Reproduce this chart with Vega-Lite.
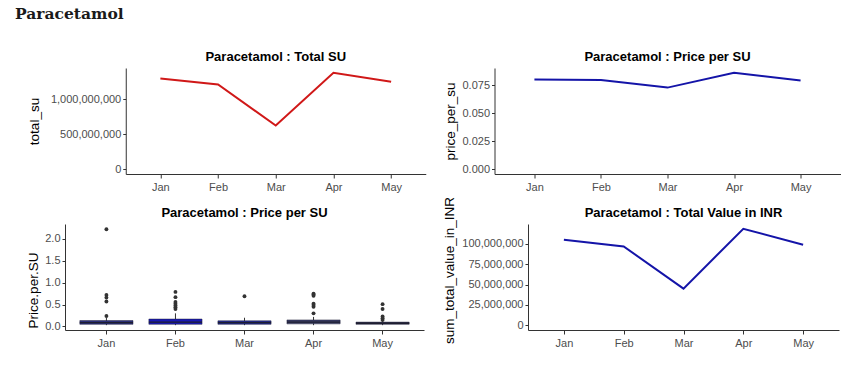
{
  "$schema": "https://vega.github.io/schema/vega-lite/v6.json",
  "background": "white",
  "padding": {"left": 7, "top": 6, "right": 5, "bottom": 5},
  "title": {"text": "Paracetamol", "anchor": "start", "frame": "bounds", "font": "DejaVu Serif", "fontSize": 15.5, "fontWeight": "bold", "color": "#1a1a1a", "dx": 8, "offset": 29},
  "datasets": {
    "monthly": [
      {"month": "Jan", "total_su": 1296000000, "price_per_su": 0.0801, "sum_total_value_in_INR": 105000000},
      {"month": "Feb", "total_su": 1210000000, "price_per_su": 0.0795, "sum_total_value_in_INR": 96800000},
      {"month": "Mar", "total_su": 624000000, "price_per_su": 0.0728, "sum_total_value_in_INR": 45000000},
      {"month": "Apr", "total_su": 1376000000, "price_per_su": 0.086, "sum_total_value_in_INR": 118500000},
      {"month": "May", "total_su": 1249000000, "price_per_su": 0.0792, "sum_total_value_in_INR": 98900000}
    ],
    "box": [
      {"month": "Jan", "lower": 0.03, "q1": 0.05, "median": 0.09, "q3": 0.135, "upper": 0.2},
      {"month": "Feb", "lower": 0.03, "q1": 0.05, "median": 0.1, "q3": 0.17, "upper": 0.3},
      {"month": "Mar", "lower": 0.03, "q1": 0.05, "median": 0.09, "q3": 0.13, "upper": 0.2},
      {"month": "Apr", "lower": 0.03, "q1": 0.06, "median": 0.1, "q3": 0.15, "upper": 0.22},
      {"month": "May", "lower": 0.03, "q1": 0.05, "median": 0.07, "q3": 0.1, "upper": 0.13}
    ],
    "outliers": [
      {"month": "Jan", "price_per_su": 0.24},
      {"month": "Jan", "price_per_su": 0.57},
      {"month": "Jan", "price_per_su": 0.66},
      {"month": "Jan", "price_per_su": 0.72},
      {"month": "Jan", "price_per_su": 2.22},
      {"month": "Feb", "price_per_su": 0.4},
      {"month": "Feb", "price_per_su": 0.44},
      {"month": "Feb", "price_per_su": 0.48},
      {"month": "Feb", "price_per_su": 0.52},
      {"month": "Feb", "price_per_su": 0.56},
      {"month": "Feb", "price_per_su": 0.67},
      {"month": "Feb", "price_per_su": 0.79},
      {"month": "Mar", "price_per_su": 0.69},
      {"month": "Apr", "price_per_su": 0.3},
      {"month": "Apr", "price_per_su": 0.45},
      {"month": "Apr", "price_per_su": 0.49},
      {"month": "Apr", "price_per_su": 0.52},
      {"month": "Apr", "price_per_su": 0.7},
      {"month": "Apr", "price_per_su": 0.73},
      {"month": "Apr", "price_per_su": 0.75},
      {"month": "May", "price_per_su": 0.15},
      {"month": "May", "price_per_su": 0.19},
      {"month": "May", "price_per_su": 0.23},
      {"month": "May", "price_per_su": 0.4},
      {"month": "May", "price_per_su": 0.51}
    ]
  },
  "vconcat": [
    {
      "hconcat": [
        {"width": 2.25, "height": 10, "data": {"values": []}, "mark": "point", "encoding": {}},
        {
          "title": "Paracetamol : Total SU",
          "width": 300,
          "height": 106,
          "data": {"name": "monthly"},
          "mark": {"type": "line", "color": "#d01818", "strokeWidth": 2},
          "encoding": {
            "x": {"field": "month", "type": "ordinal", "sort": ["Jan", "Feb", "Mar", "Apr", "May"], "scale": {"type": "point", "padding": 0.6}, "axis": {"title": null}},
            "y": {"field": "total_su", "type": "quantitative", "scale": {"domain": [-68800000, 1444800000], "nice": false, "zero": false}, "axis": {"values": [0, 500000000, 1000000000], "format": ",d", "title": "total_su", "minExtent": 80, "maxExtent": 80, "titlePadding": 4.5}}
          }
        },
        {
          "title": "Paracetamol : Price per SU",
          "width": 346,
          "height": 106,
          "data": {"name": "monthly"},
          "mark": {"type": "line", "color": "#1414a8", "strokeWidth": 2},
          "encoding": {
            "x": {"field": "month", "type": "ordinal", "sort": ["Jan", "Feb", "Mar", "Apr", "May"], "scale": {"type": "point", "padding": 0.6}, "axis": {"title": null}},
            "y": {"field": "price_per_su", "type": "quantitative", "scale": {"domain": [-0.0043, 0.0903], "nice": false, "zero": false}, "axis": {"values": [0, 0.025, 0.05, 0.075], "format": ".3f", "title": "price_per_su", "minExtent": 34, "maxExtent": 34, "titlePadding": 3.5}}
          }
        }
      ],
      "spacing": 16.75
    },
    {
      "hconcat": [
        {"width": 1, "height": 10, "data": {"values": []}, "mark": "point", "encoding": {}},
        {
          "title": "Paracetamol : Price per SU",
          "width": 359,
          "height": 106,
          "layer": [
            {
              "data": {"name": "box"},
              "mark": {"type": "rule", "color": "#333333", "strokeWidth": 1},
              "encoding": {
                "x": {"field": "month", "type": "ordinal", "sort": ["Jan", "Feb", "Mar", "Apr", "May"], "scale": {"type": "band", "paddingInner": 0.23, "paddingOuter": 0.215}, "axis": {"title": null}},
                "y": {"field": "lower", "type": "quantitative", "scale": {"domain": [-0.08, 2.34], "nice": false, "zero": false}, "axis": {"values": [0, 0.5, 1, 1.5, 2], "format": ".1f", "title": "Price.per.SU", "minExtent": 20, "maxExtent": 20, "titlePadding": 4.8, "titleY": 66}},
                "y2": {"field": "upper"}
              }
            },
            {
              "data": {"name": "box"},
              "mark": {"type": "bar", "stroke": "#20203a", "strokeWidth": 0.5},
              "encoding": {
                "x": {"field": "month", "type": "ordinal", "sort": ["Jan", "Feb", "Mar", "Apr", "May"], "axis": {"title": null}},
                "y": {"field": "q1", "type": "quantitative", "axis": {"values": [0, 0.5, 1, 1.5, 2], "format": ".1f", "title": "Price.per.SU", "minExtent": 20, "maxExtent": 20, "titlePadding": 4.8, "titleY": 66}},
                "y2": {"field": "q3"},
                "color": {"field": "month", "type": "nominal", "scale": {"domain": ["Jan", "Feb", "Mar", "Apr", "May"], "range": ["#2a2e78", "#1818b4", "#22288a", "#3a3e66", "#33334a"]}, "legend": null}
              }
            },
            {
              "data": {"name": "box"},
              "mark": {"type": "bar", "stroke": "#1e1e30", "strokeWidth": 1.2, "fill": null},
              "encoding": {
                "x": {"field": "month", "type": "ordinal", "sort": ["Jan", "Feb", "Mar", "Apr", "May"], "axis": {"title": null}},
                "y": {"field": "median", "type": "quantitative", "axis": {"values": [0, 0.5, 1, 1.5, 2], "format": ".1f", "title": "Price.per.SU", "minExtent": 20, "maxExtent": 20, "titlePadding": 4.8, "titleY": 66}},
                "y2": {"field": "median"}
              }
            },
            {
              "data": {"name": "outliers"},
              "mark": {"type": "circle", "color": "#333333", "size": 15, "opacity": 1},
              "encoding": {
                "x": {"field": "month", "type": "ordinal", "sort": ["Jan", "Feb", "Mar", "Apr", "May"], "axis": {"title": null}},
                "y": {"field": "price_per_su", "type": "quantitative", "axis": {"values": [0, 0.5, 1, 1.5, 2], "format": ".1f", "title": "Price.per.SU", "minExtent": 20, "maxExtent": 20, "titlePadding": 4.8, "titleY": 66}}
              }
            }
          ]
        },
        {
          "title": {"text": "Paracetamol : Total Value in INR", "offset": -23.5},
          "width": 311,
          "height": 106,
          "data": {"name": "monthly"},
          "mark": {"type": "line", "color": "#1414a8", "strokeWidth": 2},
          "encoding": {
            "x": {"field": "month", "type": "ordinal", "sort": ["Jan", "Feb", "Mar", "Apr", "May"], "scale": {"type": "point", "padding": 0.6}, "axis": {"title": null}},
            "y": {"field": "sum_total_value_in_INR", "type": "quantitative", "scale": {"domain": [-5925000, 124425000], "nice": false, "zero": false}, "axis": {"values": [0, 25000000, 50000000, 75000000, 100000000], "format": ",d", "title": "sum_total_value_in_INR", "minExtent": 68, "maxExtent": 68, "titlePadding": 4, "titleY": 46}}
          }
        }
      ],
      "spacing": 18
    }
  ],
  "spacing": 4,
  "config": {
    "view": {"stroke": null},
    "title": {"font": "Liberation Sans", "fontSize": 13, "fontWeight": "bold", "color": "#000000", "anchor": "middle", "frame": "group", "offset": 4},
    "axis": {"grid": false, "labelFont": "Liberation Sans", "labelFontSize": 11, "labelColor": "#4d4d4d", "titleFont": "Liberation Sans", "titleFontSize": 13.5, "titleFontWeight": "normal", "titleColor": "#000000", "domainColor": "#333333", "tickColor": "#333333", "domainWidth": 1, "tickWidth": 1},
    "axisX": {"labelAngle": 0, "tickSize": 4, "labelPadding": 3},
    "axisY": {"tickSize": 3, "labelPadding": 2}
  }
}
